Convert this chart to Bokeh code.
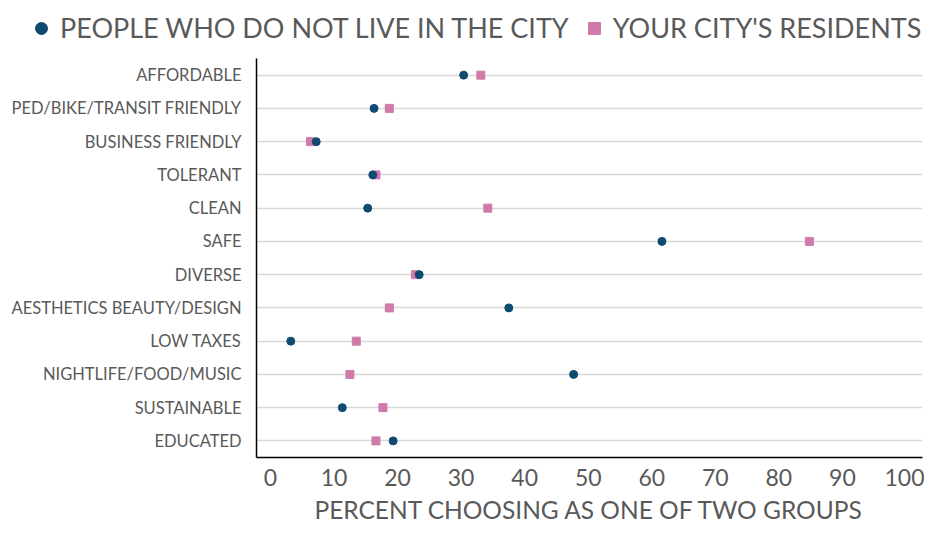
from bokeh.plotting import figure
from bokeh.layouts import column
from bokeh.models import FactorRange, Range1d, Legend, LegendItem, FixedTicker, ColumnDataSource
from bokeh.embed import file_html
from bokeh.resources import INLINE

categories = ["AFFORDABLE", "PED/BIKE/TRANSIT FRIENDLY", "BUSINESS FRIENDLY", "TOLERANT",
              "CLEAN", "SAFE", "DIVERSE", "AESTHETICS BEAUTY/DESIGN", "LOW TAXES",
              "NIGHTLIFE/FOOD/MUSIC", "SUSTAINABLE", "EDUCATED"]
non_residents = [30.4, 16.3, 7.2, 16.1, 15.3, 61.6, 23.4, 37.5, 3.2, 47.7, 11.3, 19.3]
residents = [33.1, 18.7, 6.3, 16.6, 34.2, 84.8, 22.8, 18.7, 13.5, 12.5, 17.7, 16.6]
x_ticks = [0, 10, 20, 30, 40, 50, 60, 70, 80, 90, 100]
series_names = ["PEOPLE WHO DO NOT LIVE IN THE CITY", "YOUR CITY'S RESIDENTS"]

FONT = "Lato"
GREY = "#595959"
NAVY = "#0f4a70"
PINK = "#d07aaa"

src = ColumnDataSource(dict(cat=categories, non=non_residents, res=residents))

# ---------- legend strip (its own plot so the legend can sit left of the chart frame) ----------
leg = figure(width=924, height=52, output_backend="svg", toolbar_location=None,
             x_axis_type=None, y_axis_type=None,
             x_range=Range1d(1000, 1001),
             y_range=FactorRange(factors=list(reversed(categories))))
leg.frame_align = False
leg.min_border_left = 0
leg.min_border_right = 0
leg.min_border_top = 0
leg.min_border_bottom = 0
leg.outline_line_color = None
leg.background_fill_color = "white"
leg.border_fill_color = "white"
l_non = leg.scatter(x="non", y="cat", source=src, marker="circle", size=8,
                    fill_color=NAVY, line_color=NAVY)
l_res = leg.scatter(x="res", y="cat", source=src, marker="square", size=8,
                    fill_color=PINK, line_color=PINK)
legend = Legend(items=[LegendItem(label=series_names[0], renderers=[l_non]),
                       LegendItem(label=series_names[1], renderers=[l_res])],
                orientation="horizontal", location=(26, 8),
                label_text_font=FONT, label_text_font_size="27px", label_text_color=GREY,
                glyph_width=30, glyph_height=30, label_standoff=4, spacing=10,
                padding=0, margin=0, border_line_color=None,
                background_fill_alpha=0, label_height=30)
leg.add_layout(legend)

# ---------- main chart ----------
p = figure(width=924, height=474, output_backend="svg", toolbar_location=None,
           y_range=FactorRange(factors=list(reversed(categories)), range_padding=0),
           x_range=Range1d(-2.2, 102.6))
p.frame_align = False
p.min_border_left = 256
p.min_border_right = 2
p.min_border_top = 6
p.min_border_bottom = 68
p.outline_line_color = None
p.background_fill_color = "white"
p.border_fill_color = "white"

r_res = p.scatter(x="res", y="cat", source=src, marker="square", size=8,
                  fill_color=PINK, line_color=PINK)
r_non = p.scatter(x="non", y="cat", source=src, marker="circle", size=8,
                  fill_color=NAVY, line_color=NAVY)

p.xaxis.ticker = FixedTicker(ticks=x_ticks)
p.xaxis.major_tick_line_color = None
p.xaxis.minor_tick_line_color = None
p.xaxis.axis_line_color = "black"
p.xaxis.axis_line_width = 1.5
p.xaxis.major_label_text_font = FONT
p.xaxis.major_label_text_font_size = "23px"
p.xaxis.major_label_text_color = GREY
p.xaxis.major_label_standoff = 5
p.xaxis.axis_label = "PERCENT CHOOSING AS ONE OF TWO GROUPS"
p.xaxis.axis_label_text_font = FONT
p.xaxis.axis_label_text_font_size = "24.5px"
p.xaxis.axis_label_text_font_style = "normal"
p.xaxis.axis_label_text_color = GREY
p.xaxis.axis_label_standoff = 6

p.yaxis.major_tick_line_color = None
p.yaxis.minor_tick_line_color = None
p.yaxis.axis_line_color = "black"
p.yaxis.axis_line_width = 1.5
p.yaxis.major_label_text_font = FONT
p.yaxis.major_label_text_font_size = "16.5px"
p.yaxis.major_label_text_color = GREY
p.yaxis.major_label_standoff = 9

p.xgrid.grid_line_color = None
p.ygrid.grid_line_color = "#d9d9d9"
p.ygrid.grid_line_width = 1.5

layout = column(leg, p, spacing=0)
open("out.html", "w").write(file_html(layout, INLINE))
